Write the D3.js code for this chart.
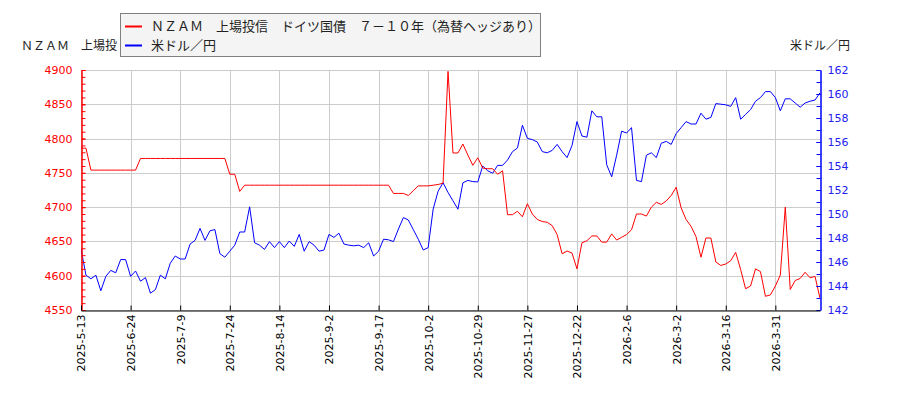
<!DOCTYPE html>
<html>
<head>
<meta charset="utf-8">
<script src="https://cdn.jsdelivr.net/npm/d3@7"></script>
<style>
  html, body { margin: 0; padding: 0; background: #fff; }
  svg { display: block; }
</style>
</head>
<body>
<div id="chart"></div>
<script>
// ---- data ----
const seriesNames = ["ＮＺＡＭ　上場投信　ドイツ国債　７－１０年（為替ヘッジあり）", "米ドル／円"];
const leftTitle = "ＮＺＡＭ　上場投";
const rightTitle = "米ドル／円";
const xTickLabels = ["2025-5-13","2025-6-24","2025-7-9","2025-7-24","2025-8-14","2025-9-2","2025-9-17","2025-10-2","2025-10-29","2025-11-27","2025-12-22","2026-2-6","2026-3-2","2026-3-16","2026-3-31"];
const xTickIndex = [0,10,20,30,40,50,60,70,80,90,100,110,120,130,140];
const leftTicks = [4550,4600,4650,4700,4750,4800,4850,4900];
const rightTicks = [142,144,146,148,150,152,154,156,158,160,162];

const etfValues = [
 4786,4786,4754,4754,4754,4754,4754,4754,4754,4754,
 4754,4754,4771,4771,4771,4771,4771,4771,4771,4771,
 4771,4771,4771,4771,4771,4771,4771,4771,4771,4771,
 4748,4748,4723,4732,4732,4732,4732,4732,4732,4732,
 4732,4732,4732,4732,4732,4732,4732,4732,4732,4732,
 4732,4732,4732,4732,4732,4732,4732,4732,4732,4732,
 4732,4732,4732,4720,4720,4720,4717,4724,4731,4731,
 4731,4732,4733,4735,4898,4779,4779,4792,4776,4761,
 4772,4757,4756,4756,4748,4753,4689,4689,4694,4686,
 4705,4690,4682,4679,4678,4673,4660,4632,4636,4633,
 4610,4648,4651,4658,4658,4649,4649,4661,4652,4656,
 4660,4667,4690,4690,4687,4700,4707,4704,4709,4717,
 4729,4699,4682,4672,4657,4627,4655,4655,4620,4615,
 4617,4622,4634,4609,4581,4585,4610,4606,4570,4572,
 4585,4601,4700,4580,4593,4596,4605,4597,4599,4567
];

const usdjpyValues = [
 147.1,144.9,144.6,144.9,143.6,144.8,145.3,145.1,146.2,146.2,
 144.8,145.25,144.4,144.7,143.4,143.7,144.9,144.6,145.9,146.5,
 146.25,146.25,147.5,147.8,148.8,147.8,148.6,148.7,146.7,146.4,
 146.9,147.4,148.5,148.5,150.6,147.6,147.4,147.05,147.7,147.2,
 147.7,147.2,147.75,147.3,148.3,146.9,147.7,147.4,146.9,147.0,
 148.3,148.05,148.4,147.5,147.4,147.35,147.4,147.2,147.6,146.5,
 146.9,147.9,147.85,147.7,148.75,149.7,149.5,148.7,147.9,147.0,
 147.2,150.4,151.9,152.6,151.8,151.1,150.4,152.6,152.8,152.7,
 152.67,154.0,153.6,153.4,154.05,154.05,154.5,155.2,155.5,157.4,
 156.3,156.2,156.0,155.2,155.1,155.3,155.8,155.2,154.7,155.7,
 157.7,156.5,156.4,158.6,158.1,158.1,154.1,153.1,154.9,156.9,
 156.75,157.2,152.8,152.7,154.9,155.1,154.7,155.9,156.05,155.8,
 156.7,157.2,157.7,157.5,157.5,158.4,157.9,158.05,159.2,159.15,
 159.1,158.97,159.7,157.9,158.3,158.7,159.4,159.7,160.2,160.2,
 159.7,158.6,159.6,159.6,159.25,158.9,159.25,159.4,159.5,160.1
];

// ---- layout ----
const W = 900, H = 400;
const L = 81, R = 820, T = 70, B = 310;
const RED = "#ff0000", BLUE = "#0000ff";
const jpFont = "'Noto Sans CJK JP', 'Noto Sans', sans-serif";
const numFont = "'DejaVu Sans', sans-serif";

const svg = d3.select("#chart").append("svg").attr("width", W).attr("height", H);

const n = etfValues.length;
const x = d3.scaleLinear().domain([0, n - 1]).range([L, R]);
const yL = d3.scaleLinear().domain([4550, 4900]).range([B, T]);
const yR = d3.scaleLinear().domain([142, 162]).range([B, T]);

// grid
const grid = svg.append("g").attr("stroke", "#cccccc").attr("stroke-width", 1);
grid.selectAll("line.v").data(xTickIndex).join("line")
  .attr("x1", d => Math.round(x(d)) + 0.5).attr("x2", d => Math.round(x(d)) + 0.5)
  .attr("y1", T).attr("y2", B);
grid.selectAll("line.h").data(leftTicks).join("line")
  .attr("x1", L).attr("x2", R)
  .attr("y1", d => Math.round(yL(d)) + 0.5).attr("y2", d => Math.round(yL(d)) + 0.5);

// clip
svg.append("clipPath").attr("id", "plotclip").append("rect")
  .attr("x", L).attr("y", T - 1).attr("width", R - L).attr("height", B - T + 1);

const lineL = d3.line().x((d, i) => x(i)).y(d => yL(d));
const lineR = d3.line().x((d, i) => x(i)).y(d => yR(d));

const plot = svg.append("g").attr("clip-path", "url(#plotclip)");
plot.append("path").datum(usdjpyValues).attr("d", lineR)
  .attr("fill", "none").attr("stroke", BLUE).attr("stroke-width", 1);
plot.append("path").datum(etfValues).attr("d", lineL)
  .attr("fill", "none").attr("stroke", RED).attr("stroke-width", 1);

// left axis
const leftMinor = d3.range(4550, 4901, 10);
const gLm = svg.append("g").attr("transform", `translate(${L + 0.5},0)`)
  .call(d3.axisLeft(yL).tickValues(leftMinor).tickSizeInner(-4).tickSizeOuter(0).tickFormat(""));
gLm.select(".domain").attr("stroke", RED);
gLm.selectAll(".tick line").attr("stroke", RED);
const gL = svg.append("g").attr("transform", `translate(${L + 0.5},0)`)
  .call(d3.axisLeft(yL).tickValues(leftTicks).tickSizeInner(-4).tickSizeOuter(0).tickPadding(9).tickFormat(d3.format("d")));
gL.select(".domain").attr("stroke", RED);
gL.selectAll(".tick line").attr("stroke", RED);
gL.selectAll(".tick text").attr("fill", RED).style("font-family", numFont).style("font-size", "11px");

// right axis
const rightMinor = d3.range(142, 162.5, 1);
const gRm = svg.append("g").attr("transform", `translate(${R + 0.5},0)`)
  .call(d3.axisRight(yR).tickValues(rightMinor).tickSizeInner(-4).tickSizeOuter(0).tickFormat(""));
gRm.select(".domain").attr("stroke", BLUE);
gRm.selectAll(".tick line").attr("stroke", BLUE);
const gR = svg.append("g").attr("transform", `translate(${R + 0.5},0)`)
  .call(d3.axisRight(yR).tickValues(rightTicks).tickSizeInner(-4).tickSizeOuter(0).tickPadding(7).tickFormat(d3.format("d")));
gR.select(".domain").attr("stroke", BLUE);
gR.selectAll(".tick line").attr("stroke", BLUE);
gR.selectAll(".tick text").attr("fill", "#2222ee").style("font-family", numFont).style("font-size", "11px");

// bottom axis
const gB = svg.append("g").attr("transform", `translate(0,${B + 0.5})`)
  .call(d3.axisBottom(x).tickValues(xTickIndex).tickSizeInner(-5).tickSizeOuter(0)
    .tickFormat((d, i) => xTickLabels[i]));
gB.select(".domain").attr("stroke", "#000");
gB.selectAll(".tick line").attr("stroke", "#000");
gB.selectAll(".tick text")
  .attr("transform", "rotate(-90)")
  .attr("x", -4).attr("y", 0).attr("dy", "0.35em")
  .style("text-anchor", "end")
  .attr("fill", "#000")
  .style("font-family", numFont).style("font-size", "11px");

// axis titles
svg.append("text").attr("x", 21).attr("y", 50)
  .style("font-family", jpFont).style("font-size", "12px").attr("fill", "#222")
  .text(leftTitle);
svg.append("text").attr("x", 850).attr("y", 50).attr("text-anchor", "end")
  .style("font-family", jpFont).style("font-size", "12px").attr("fill", "#222")
  .text(rightTitle);

// legend
const lg = svg.append("g");
lg.append("rect").attr("x", 120.5).attr("y", 13.5).attr("width", 420).attr("height", 43)
  .attr("fill", "#f4f4f4").attr("stroke", "#808080").attr("stroke-width", 1);
const legendColors = [RED, BLUE];
const legendY = [26.5, 45.5];
seriesNames.forEach((name, i) => {
  lg.append("line").attr("x1", 125).attr("x2", 142).attr("y1", legendY[i]).attr("y2", legendY[i])
    .attr("stroke", legendColors[i]).attr("stroke-width", 2);
  lg.append("text").attr("x", 151).attr("y", legendY[i] + 4.5)
    .style("font-family", jpFont).style("font-size", "13px").attr("fill", "#222")
    .text(name);
});
</script>
</body>
</html>
